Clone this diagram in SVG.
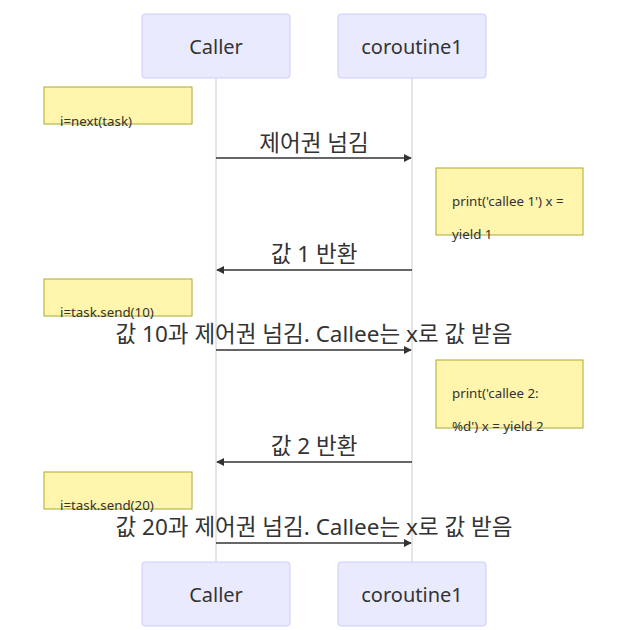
<svg xmlns="http://www.w3.org/2000/svg" width="641" height="630" viewBox="0 0 641 630">
<defs>
<marker id="arrow" viewBox="0 0 10 10" refX="9" refY="5" markerWidth="8" markerHeight="8" markerUnits="userSpaceOnUse" orient="auto">
<path d="M0,0 L10,5 L0,10 z" fill="#333"/>
</marker>
<style>
.actor{fill:#eaeaff;stroke:#ccccff;stroke-width:1}
.actor-text{font-family:"Noto Sans","Noto Sans CJK KR",sans-serif;font-size:20px;fill:#333;text-anchor:middle;dominant-baseline:central}
.life{stroke:#cccccc;stroke-width:1}
.note{fill:#fff5ad;stroke:#aaaa33;stroke-width:1}
.note-text{font-family:"Noto Sans","Noto Sans CJK KR",sans-serif;font-size:13.3px;fill:#333}
.msg{stroke:#333;stroke-width:1.5;fill:none;marker-end:url(#arrow)}
.msg-text{font-family:"Noto Sans","Noto Sans CJK KR",sans-serif;font-size:22.5px;fill:#333;text-anchor:middle}
</style>
</defs>
<rect width="641" height="630" fill="#ffffff"/>
<g id="lifelines">
<line class="life" x1="216" y1="78" x2="216" y2="562"/>
<line class="life" x1="412" y1="78" x2="412" y2="562"/>
</g>
<g id="actor-caller-top">
<rect class="actor" x="142" y="14" width="148" height="64" rx="3"/>
<text class="actor-text" x="216" y="46">Caller</text>
</g>
<g id="actor-coroutine-top">
<rect class="actor" x="338" y="14" width="148" height="64" rx="3"/>
<text class="actor-text" x="412" y="46">coroutine1</text>
</g>
<g id="actor-caller-bottom">
<rect class="actor" x="142" y="562" width="148" height="64" rx="3"/>
<text class="actor-text" x="216" y="594">Caller</text>
</g>
<g id="actor-coroutine-bottom">
<rect class="actor" x="338" y="562" width="148" height="64" rx="3"/>
<text class="actor-text" x="412" y="594">coroutine1</text>
</g>
<g id="note1">
<rect class="note" x="44" y="87" width="148" height="37"/>
<text class="note-text" x="60" y="126">i=next(task)</text>
</g>
<g id="note2">
<rect class="note" x="436" y="168" width="147" height="67"/>
<text class="note-text" x="452" y="206">print('callee 1') x =</text>
<text class="note-text" x="452" y="239">yield 1</text>
</g>
<g id="note3">
<rect class="note" x="44" y="279" width="148" height="37"/>
<text class="note-text" x="60" y="317">i=task.send(10)</text>
</g>
<g id="note4">
<rect class="note" x="436" y="360" width="147" height="68"/>
<text class="note-text" x="452" y="398">print('callee 2:</text>
<text class="note-text" x="452" y="431">%d') x = yield 2</text>
</g>
<g id="note5">
<rect class="note" x="44" y="472" width="148" height="37"/>
<text class="note-text" x="60" y="510">i=task.send(20)</text>
</g>
<g id="connectors">
<line class="msg" x1="216" y1="158" x2="411" y2="158"/>
<line class="msg" x1="412" y1="270" x2="217" y2="270"/>
<line class="msg" x1="216" y1="350" x2="411" y2="350"/>
<line class="msg" x1="412" y1="462" x2="217" y2="462"/>
<line class="msg" x1="216" y1="543" x2="411" y2="543"/>
</g>
<g id="labels">
<text class="msg-text" x="314" y="151">제어권 넘김</text>
<text class="msg-text" x="314" y="262">값 1 반환</text>
<text class="msg-text" x="314" y="342">값 10과 제어권 넘김. Callee는 x로 값 받음</text>
<text class="msg-text" x="314" y="454">값 2 반환</text>
<text class="msg-text" x="314" y="535">값 20과 제어권 넘김. Callee는 x로 값 받음</text>
</g>
</svg>
